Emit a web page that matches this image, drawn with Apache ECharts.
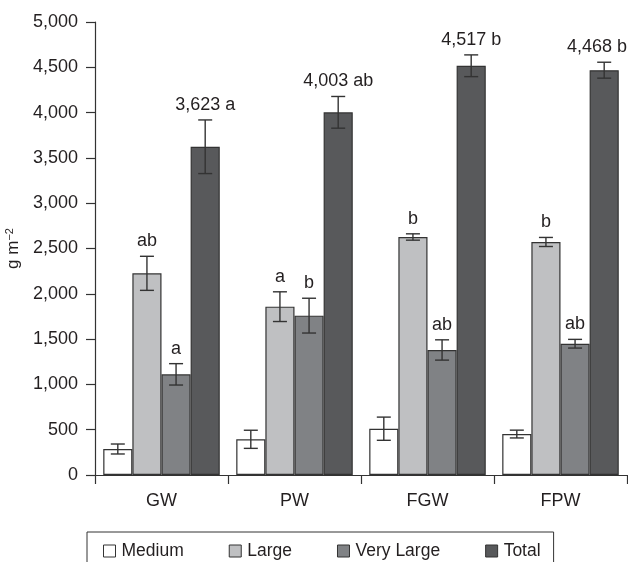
<!DOCTYPE html>
<html>
<head>
<meta charset="utf-8">
<script src="https://cdn.jsdelivr.net/npm/echarts@6/dist/echarts.min.js"></script>
<style>
  html, body { margin: 0; padding: 0; background: #fff; }
  #chart { width: 628px; height: 562px; }
</style>
</head>
<body>
<div id="chart"></div>
<script>
// Root biomass by size class for each treatment (g m-2)
const categories = ['GW', 'PW', 'FGW', 'FPW'];
const seriesNames = ['Medium', 'Large', 'Very Large', 'Total'];

const medium     = [287, 394, 511, 452];
const large      = [2226, 1858, 2627, 2572];
const veryLarge  = [1111, 1759, 1380, 1449];
const total      = [3623, 4003, 4517, 4468];

// Standard errors
const mediumErr    = [55, 100, 128, 43];
const largeErr     = [188, 164, 35, 50];
const veryLargeErr = [118, 192, 112, 48];
const totalErr     = [296, 175, 120, 88];

// Significance letters (empty = none drawn)
const mediumSig    = ['', '', '', ''];
const largeSig     = ['ab', 'a', 'b', 'b'];
const veryLargeSig = ['a', 'b', 'ab', 'ab'];
const totalSig     = ['a', 'ab', 'b', 'b'];

const yTicks = { min: 0, max: 5000, interval: 500 };

const colors = ['#ffffff', '#bfc0c2', '#808285', '#58595b'];
const valueSets = [medium, large, veryLarge, total];
const errSets = [mediumErr, largeErr, veryLargeErr, totalErr];
const sigSets = [mediumSig, largeSig, veryLargeSig, totalSig];

const CAT_GAP = 0.124;
const FONT = "'Liberation Sans', Arial, sans-serif";
const LABEL_FONT = '18px ' + FONT;
const INK = '#231f20';

function fmt(v) {
  return String(v).replace(/\B(?=(\d{3})+(?!\d))/g, ',');
}

// One record per bar: [category index, mean, error, label, series index]
const errData = [];
valueSets.forEach((vals, s) => {
  vals.forEach((v, c) => {
    let label = sigSets[s][c];
    if (s === 3) label = fmt(v) + ' ' + label;
    errData.push([c, v, errSets[s][c], label, s]);
  });
});

const barSeries = seriesNames.map((name, s) => ({
  name: name,
  type: 'bar',
  data: valueSets[s],
  barGap: '0%',
  barCategoryGap: (CAT_GAP * 100) + '%',
  itemStyle: { color: colors[s], borderColor: '#333', borderWidth: 1.2 },
  emphasis: { disabled: true }
}));

const errorSeries = {
  type: 'custom',
  data: errData,
  z: 5,
  silent: true,
  renderItem: function (params, api) {
    const c = api.value(0), v = api.value(1), e = api.value(2), s = api.value(4);
    const label = errData[params.dataIndex][3];
    const band = api.size([1, 0])[0];
    const barW = band * (1 - CAT_GAP) / 4;
    const cx = api.coord([c, v])[0] + (s - 1.5) * barW;
    const yTop = api.coord([c, v + e])[1];
    const yBot = api.coord([c, v - e])[1];
    const half = 7;
    const ls = { stroke: '#333', lineWidth: 1.4 };
    // keep the value label inside the canvas on the right edge
    const tw = echarts.format.getTextRect ? echarts.format.getTextRect(label, LABEL_FONT).width : label.length * 9;
    const rightLimit = params.coordSys.x + params.coordSys.width;
    const tx = Math.min(cx, rightLimit - tw / 2);
    return {
      type: 'group',
      children: [
        { type: 'line', shape: { x1: cx, y1: yTop, x2: cx, y2: yBot }, style: ls },
        { type: 'line', shape: { x1: cx - half, y1: yTop, x2: cx + half, y2: yTop }, style: ls },
        { type: 'line', shape: { x1: cx - half, y1: yBot, x2: cx + half, y2: yBot }, style: ls },
        {
          type: 'text',
          style: {
            x: tx, y: yTop - 6, text: label,
            align: 'center', verticalAlign: 'bottom',
            font: LABEL_FONT, fill: INK
          }
        }
      ]
    };
  }
};

const chart = echarts.init(document.getElementById('chart'), null, { renderer: 'canvas' });
chart.setOption({
  animation: false,
  backgroundColor: '#ffffff',
  grid: { left: 95, right: 1, top: 22, bottom: 87, containLabel: false, outerBoundsMode: 'none' },
  legend: {
    data: seriesNames,
    left: 87,
    top: 532,
    orient: 'horizontal',
    itemGap: 45,
    itemWidth: 12,
    itemHeight: 12,
    icon: 'rect',
    padding: [10, 13, 12, 16],
    borderColor: '#333',
    borderWidth: 1,
    itemStyle: { borderColor: '#333', borderWidth: 1 },
    textStyle: { fontFamily: FONT, fontSize: 17.5, color: INK, padding: [0, 0, 0, 1] },
    selectedMode: false
  },
  xAxis: {
    type: 'category',
    data: categories,
    axisLine: { lineStyle: { color: '#333', width: 1.2 } },
    axisTick: { show: true, length: 9, alignWithLabel: false, lineStyle: { color: '#333', width: 1.2 } },
    axisLabel: { margin: 17, fontFamily: FONT, fontSize: 18, color: INK },
    splitLine: { show: false }
  },
  yAxis: {
    type: 'value',
    min: yTicks.min,
    max: yTicks.max,
    interval: yTicks.interval,
    name: '{a|g m}{s|−2}',
    nameLocation: 'middle',
    nameGap: 57,
    nameRotate: 90,
    nameTextStyle: {
      rich: {
        a: { fontFamily: FONT, fontSize: 17, color: INK },
        s: { fontFamily: FONT, fontSize: 11, color: INK, verticalAlign: 'top', padding: [0, 0, 8, 0] }
      }
    },
    axisLine: { show: true, lineStyle: { color: '#333', width: 1.2 } },
    axisTick: { show: true, length: 9, lineStyle: { color: '#333', width: 1.2 } },
    axisLabel: { margin: 17, fontFamily: FONT, fontSize: 18, color: INK, formatter: fmt },
    splitLine: { show: false }
  },
  series: barSeries.concat([errorSeries])
});
</script>
</body>
</html>
